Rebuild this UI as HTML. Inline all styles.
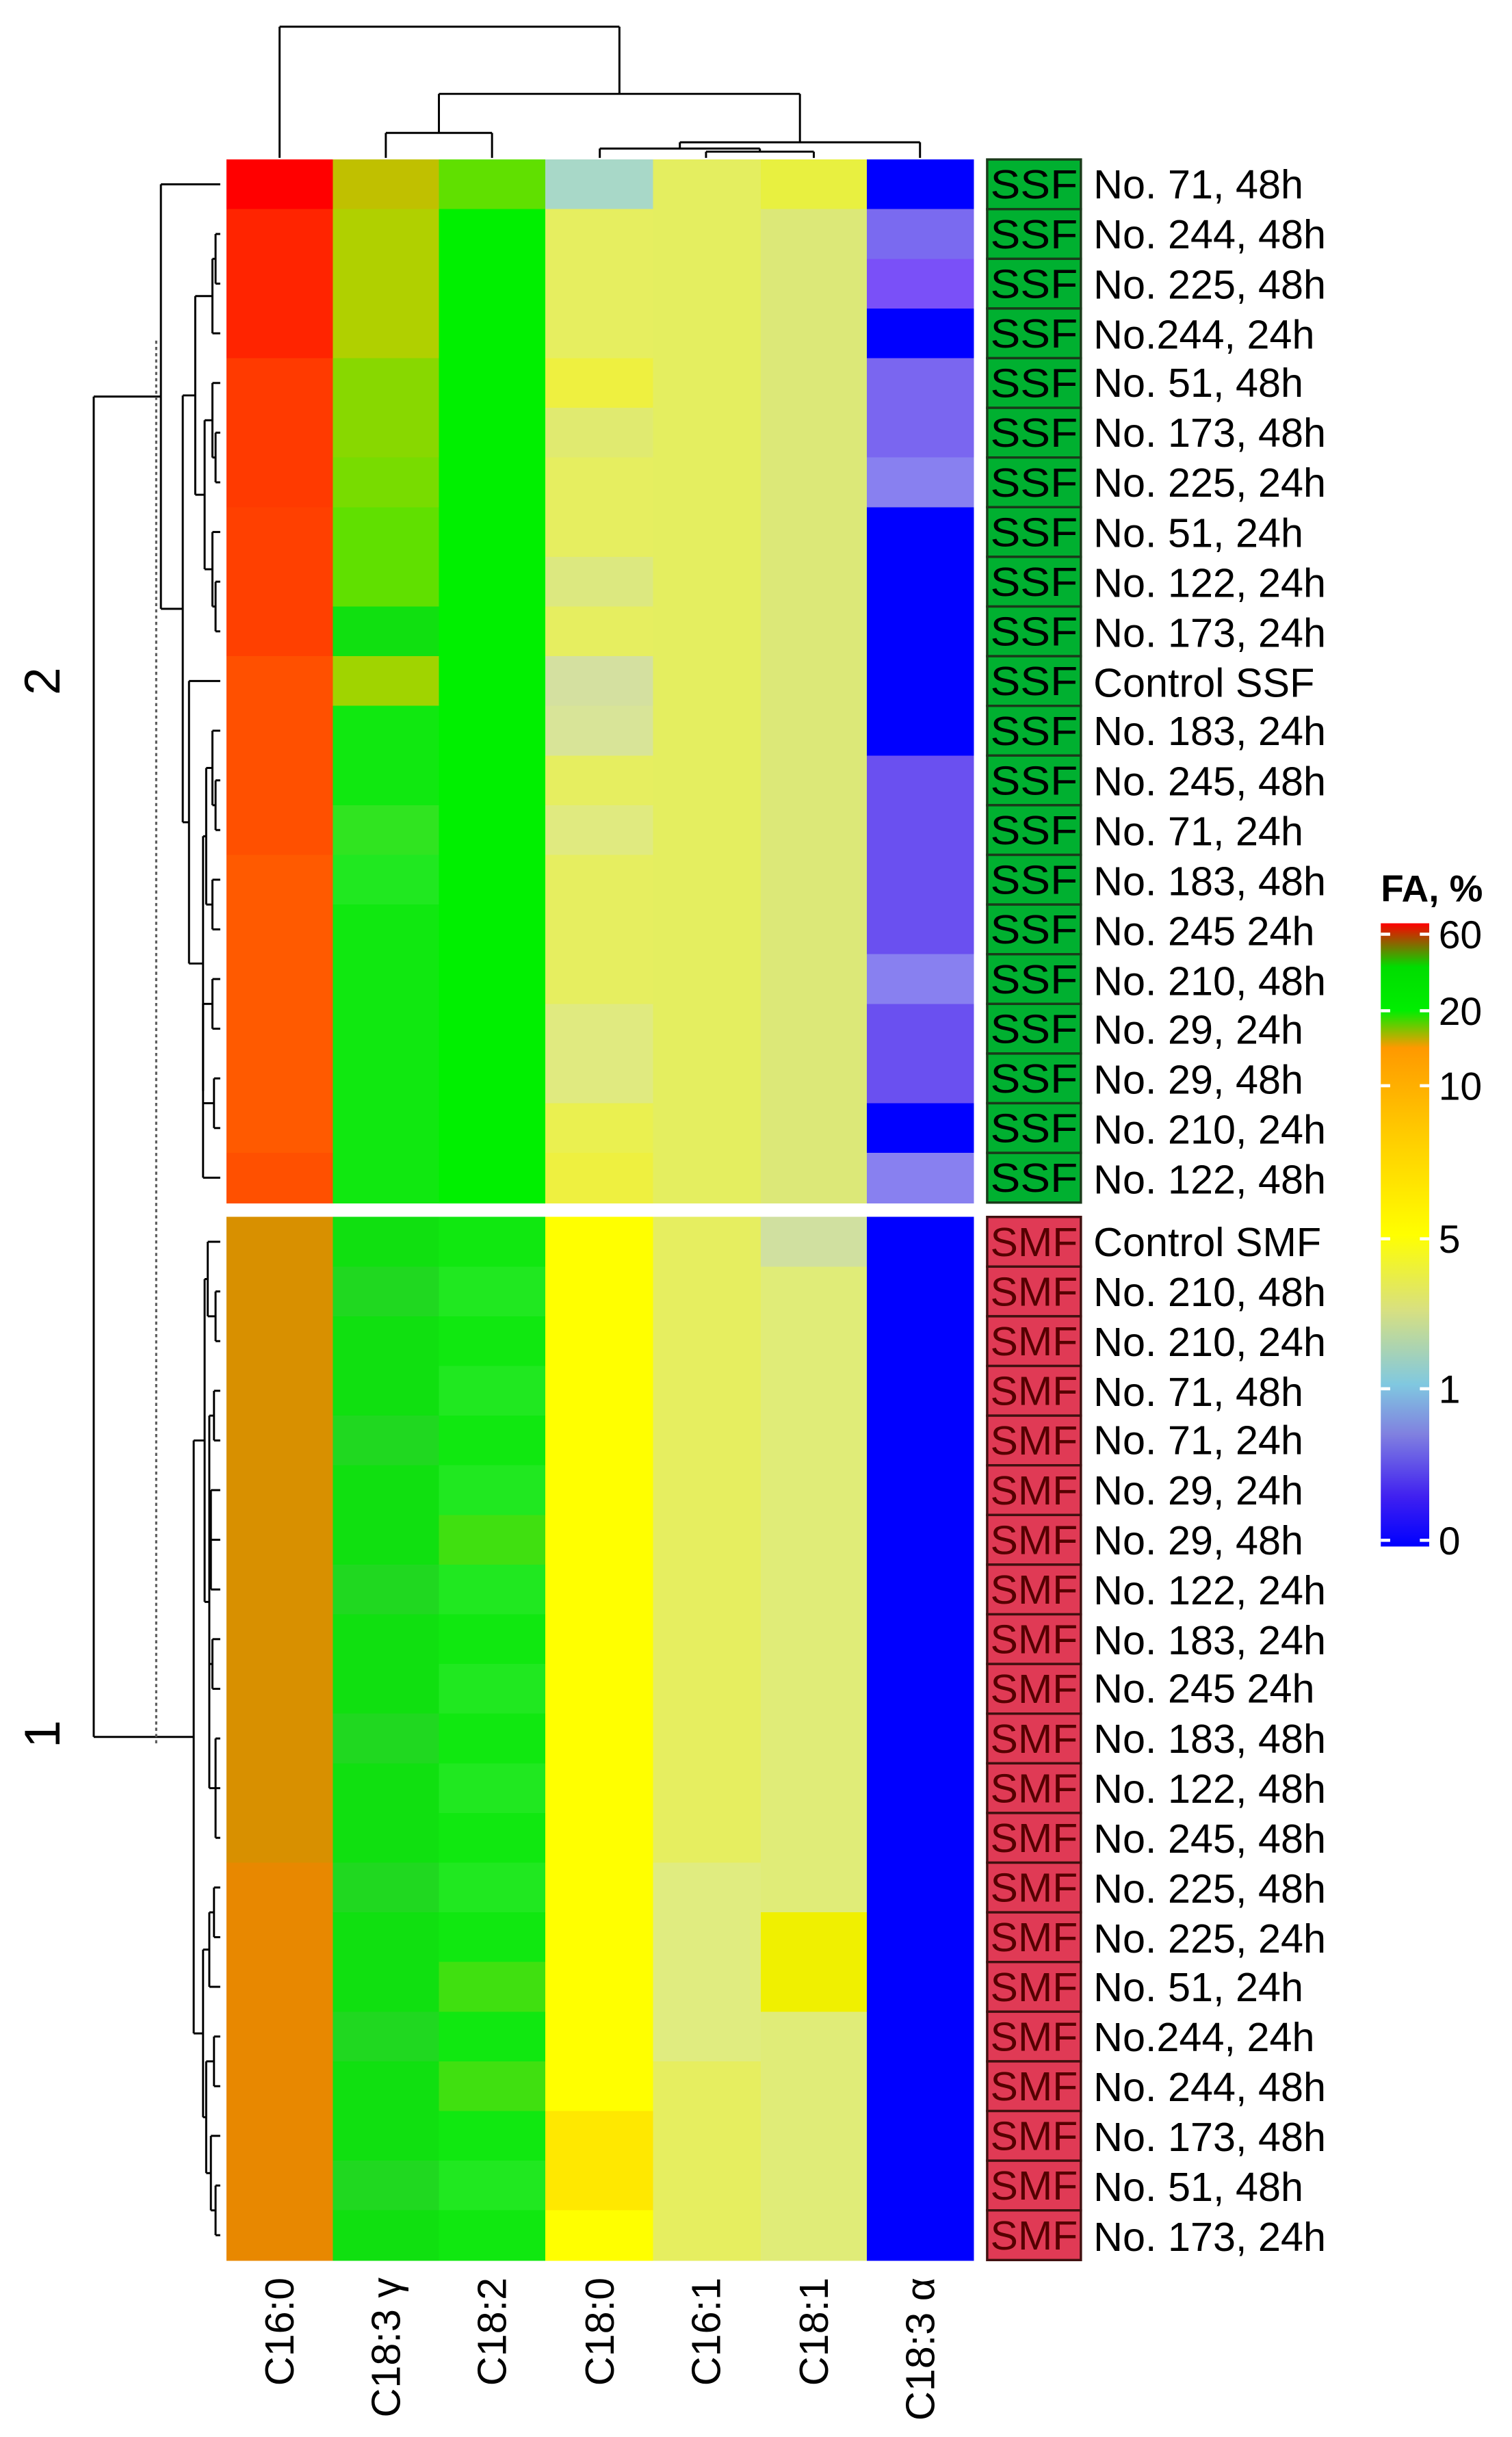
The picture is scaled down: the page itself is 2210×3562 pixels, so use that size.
<!DOCTYPE html>
<html><head><meta charset="utf-8"><style>
html,body{margin:0;padding:0;background:#fff;}
svg{display:block;}
text{font-family:"Liberation Sans",sans-serif;}
</style></head><body>
<svg id="s" width="2210" height="3562" viewBox="0 0 968 1560" xmlns="http://www.w3.org/2000/svg">
<defs>
<linearGradient id="cb" x1="0" y1="0" x2="0" y2="1">
<stop offset="0" stop-color="#ff0000"/>
<stop offset="0.07" stop-color="#00dd00"/>
<stop offset="0.14" stop-color="#00ee00"/>
<stop offset="0.2" stop-color="#ff9900"/>
<stop offset="0.34" stop-color="#ffcc00"/>
<stop offset="0.5" stop-color="#ffff00"/>
<stop offset="0.62" stop-color="#d8e080"/>
<stop offset="0.74" stop-color="#80c8e0"/>
<stop offset="0.82" stop-color="#8080e0"/>
<stop offset="0.92" stop-color="#4020f0"/>
<stop offset="1" stop-color="#0000ff"/>
</linearGradient>
</defs>
<g id="cells" shape-rendering="crispEdges"></g>
<g id="dend" stroke="#000" stroke-width="1.3" fill="none"></g>
<line x1="100" y1="218" x2="100" y2="1117" stroke="#555" stroke-width="1.3" stroke-dasharray="2,2"/>
<g font-size="26" fill="#000">
<text x="700" y="127">No. 71, 48h</text>
<text x="700" y="159">No. 244, 48h</text>
<text x="700" y="191">No. 225, 48h</text>
<text x="700" y="223">No.244, 24h</text>
<text x="700" y="254">No. 51, 48h</text>
<text x="700" y="286">No. 173, 48h</text>
<text x="700" y="318">No. 225, 24h</text>
<text x="700" y="350">No. 51, 24h</text>
<text x="700" y="382">No. 122, 24h</text>
<text x="700" y="414">No. 173, 24h</text>
<text x="700" y="446">Control SSF</text>
<text x="700" y="477">No. 183, 24h</text>
<text x="700" y="509">No. 245, 48h</text>
<text x="700" y="541">No. 71, 24h</text>
<text x="700" y="573">No. 183, 48h</text>
<text x="700" y="605">No. 245 24h</text>
<text x="700" y="637">No. 210, 48h</text>
<text x="700" y="668">No. 29, 24h</text>
<text x="700" y="700">No. 29, 48h</text>
<text x="700" y="732">No. 210, 24h</text>
<text x="700" y="764">No. 122, 48h</text>
<text x="700" y="804">Control SMF</text>
<text x="700" y="836">No. 210, 48h</text>
<text x="700" y="868">No. 210, 24h</text>
<text x="700" y="900">No. 71, 48h</text>
<text x="700" y="931">No. 71, 24h</text>
<text x="700" y="963">No. 29, 24h</text>
<text x="700" y="995">No. 29, 48h</text>
<text x="700" y="1027">No. 122, 24h</text>
<text x="700" y="1059">No. 183, 24h</text>
<text x="700" y="1090">No. 245 24h</text>
<text x="700" y="1122">No. 183, 48h</text>
<text x="700" y="1154">No. 122, 48h</text>
<text x="700" y="1186">No. 245, 48h</text>
<text x="700" y="1218">No. 225, 48h</text>
<text x="700" y="1250">No. 225, 24h</text>
<text x="700" y="1281">No. 51, 24h</text>
<text x="700" y="1313">No.244, 24h</text>
<text x="700" y="1345">No. 244, 48h</text>
<text x="700" y="1377">No. 173, 48h</text>
<text x="700" y="1409">No. 51, 48h</text>
<text x="700" y="1441">No. 173, 24h</text>
</g>
<g id="annot" font-size="26"></g>
<g font-size="26" fill="#000">
<text transform="translate(188,1458) rotate(-90)" text-anchor="end">C16:0</text>
<text transform="translate(256,1458) rotate(-90)" text-anchor="end">C18:3 γ</text>
<text transform="translate(324,1458) rotate(-90)" text-anchor="end">C18:2</text>
<text transform="translate(393,1458) rotate(-90)" text-anchor="end">C18:0</text>
<text transform="translate(461,1458) rotate(-90)" text-anchor="end">C16:1</text>
<text transform="translate(530,1458) rotate(-90)" text-anchor="end">C18:1</text>
<text transform="translate(598,1458) rotate(-90)" text-anchor="end">C18:3 α</text>
</g>
<text transform="translate(38,436) rotate(-90)" text-anchor="middle" font-size="32">2</text>
<text transform="translate(38,1110) rotate(-90)" text-anchor="middle" font-size="32">1</text>
<text x="884" y="577" font-size="24" font-weight="bold">FA, %</text>
<rect x="884" y="591" width="31" height="399" fill="url(#cb)"/>
<g stroke="#fff" stroke-width="2">
<line x1="884" y1="598" x2="890" y2="598"/><line x1="909" y1="598" x2="915" y2="598"/>
<line x1="884" y1="647" x2="890" y2="647"/><line x1="909" y1="647" x2="915" y2="647"/>
<line x1="884" y1="695" x2="890" y2="695"/><line x1="909" y1="695" x2="915" y2="695"/>
<line x1="884" y1="793" x2="890" y2="793"/><line x1="909" y1="793" x2="915" y2="793"/>
<line x1="884" y1="889" x2="890" y2="889"/><line x1="909" y1="889" x2="915" y2="889"/>
<line x1="884" y1="986" x2="890" y2="986"/><line x1="909" y1="986" x2="915" y2="986"/>
</g>
<g font-size="25" fill="#000">
<text x="921" y="607">60</text>
<text x="921" y="656">20</text>
<text x="921" y="704">10</text>
<text x="921" y="802">5</text>
<text x="921" y="898">1</text>
<text x="921" y="995">0</text>
</g>
</svg>
<script>
(function(){
var NS="http://www.w3.org/2000/svg";
function el(p,t,a){var e=document.createElementNS(NS,t);for(var k in a)e.setAttribute(k,a[k]);p.appendChild(e);return e;}
var cells=document.getElementById('cells');
var cx=[145,213,281,349,418,487,555,623];
var rh=31.8;
var top1=102, top2=779;
var A={r:'#ff0000',r2:'#ff2400',r3:'#ff3a00',r4:'#ff4400',r5:'#ff5200',r6:'#ff5a00'};
var c0=['#ff0000','#ff2400','#ff2400','#ff2400','#ff3a00','#ff3a00','#ff3a00','#ff4000','#ff4000','#ff4000','#ff5000','#ff5000','#ff5000','#ff5000','#ff5a00','#ff5a00','#ff5a00','#ff5a00','#ff5a00','#ff5a00','#ff5000'];
var c1=['#c0c000','#b0d000','#b0d000','#b0d000','#88d800','#88d800','#78dc00','#60e000','#60e000','#10e010','#a0d400','#10e810','#10e810','#30e420','#20e820','#10e810','#10e810','#10e810','#10e810','#10e810','#10e810'];
var c2=['#60e000'];for(var i=1;i<21;i++)c2.push('#00f000');
var c3=['#a8d8c8','#e6ee60','#e6ee60','#e6ee60','#eef040','#e0ea70','#e6ee60','#e6ee60','#dce880','#e6ee60','#d4e0a0','#d8e498','#e6ee60','#e0ea80','#e6ee60','#e6ee60','#e6ee60','#e0ea80','#e0ea80','#eaf050','#eef040'];
var c4=[];for(i=0;i<21;i++)c4.push('#e4ee60');
var c5=['#e8f040'];for(i=1;i<21;i++)c5.push('#dce878');
var c6=['#0000ff','#7a6af0','#7a50f8','#0000ff','#7a66f0','#7a66f0','#8880f0','#0000ff','#0000ff','#0000ff','#0000ff','#0000ff','#6a50f0','#6a50f0','#6a50f0','#6a50f0','#8880f0','#6a50f0','#6a50f0','#0000ff','#8880f0'];
var top=[c0,c1,c2,c3,c4,c5,c6];
var d0=[],d1=[],d2=[],d3=[],d4=[],d5=[],d6=[];
for(i=0;i<21;i++){
 d0.push(i<13?'#d89000':'#e88800');
 d1.push(i%3==1?'#20d820':'#10e010');
 d2.push(i==6||i==15||i==17?'#40e010':(i%2?'#20e820':'#10e810'));
 d3.push(i==18||i==19?'#ffe800':'#ffff00');
 d4.push(i>=13&&i<=16?'#e0ec80':'#e6ee60');
 d5.push(i==0?'#d0e0a0':(i==14||i==15?'#f0f000':'#e0ec78'));
 d6.push('#0000ff');
}
var bot=[d0,d1,d2,d3,d4,d5,d6];
for(var c=0;c<7;c++){for(i=0;i<21;i++){
 el(cells,'rect',{x:cx[c],y:top1+i*rh,width:cx[c+1]-cx[c]+0.5,height:rh+0.5,fill:top[c][i]});
 el(cells,'rect',{x:cx[c],y:top2+i*rh,width:cx[c+1]-cx[c]+0.5,height:rh+0.5,fill:bot[c][i]});
}}
// annotation boxes
var an=document.getElementById('annot');
for(i=0;i<21;i++){
 el(an,'rect',{x:632,y:top1+i*rh,width:60,height:rh,fill:'#00b030',stroke:'#1a3a1a','stroke-width':1.5});
 var t=el(an,'text',{x:634,y:top1+i*rh+25,textLength:56,lengthAdjust:'spacingAndGlyphs',fill:'#000'});t.textContent='SSF';
 el(an,'rect',{x:632,y:top2+i*rh,width:60,height:rh,fill:'#e03a55',stroke:'#401010','stroke-width':1.5});
 t=el(an,'text',{x:634,y:top2+i*rh+25,textLength:56,lengthAdjust:'spacingAndGlyphs',fill:'#500'});t.textContent='SMF';
}
// dendrograms
var dg=document.getElementById('dend');
function ln(a,b,c,d){el(dg,'line',{x1:a,y1:b,x2:c,y2:d});}
function N(x,c){return {x:x,c:c};}
function drawL(n,off){ // left dendro
 if(typeof n=='number')return {y:off+(n+0.5)*rh,x:141};
 var ys=[];for(var k=0;k<n.c.length;k++){var r=drawL(n.c[k],off);ln(r.x,r.y,n.x,r.y);ys.push(r.y);}
 var mn=Math.min.apply(null,ys),mx=Math.max.apply(null,ys);ln(n.x,mn,n.x,mx);
 return {y:(mn+mx)/2,x:n.x};
}
var T2=N(103,[0,N(117,[N(125,[N(136,[N(138,[1,2]),3]),N(131,[N(136,[4,N(138,[5,6])]),N(136,[7,N(138,[8,9])])])]),N(121,[10,N(130,[N(132,[N(136,[11,N(138,[12,13])]),N(136,[14,15])]),N(130,[N(136,[16,17]),N(137,[18,19]),20])])])])]);
var T1=N(124,[N(131,[N(133,[0,N(138,[1,2])]),N(134,[N(137,[3,4]),N(135,[5,6,7]),N(136,[8,9]),N(138,[10,11,12])])]),N(130,[N(134,[N(137,[13,14]),15]),N(132,[N(137,[16,17]),N(135,[18,N(138,[19,20])])])])]);
var r2=drawL(T2,top1), r1=drawL(T1,top2);
ln(60,r2.y,r2.x,r2.y);ln(60,r1.y,r1.x,r1.y);ln(60,r2.y,60,r1.y);
// top dendro
var cc=[179,247,315,384,452,521,589];
function drawT(n){
 if(typeof n=='number')return {x:cc[n],y:101};
 var xs=[];for(var k=0;k<n.c.length;k++){var r=drawT(n.c[k]);ln(r.x,r.y,r.x,n.y);xs.push(r.x);}
 var mn=Math.min.apply(null,xs),mx=Math.max.apply(null,xs);ln(mn,n.y,mx,n.y);
 return {x:(mn+mx)/2,y:n.y};
}
function M(y,c){return {y:y,c:c};}
drawT(M(17,[0,M(60,[M(85,[1,2]),M(91,[M(95,[3,M(97,[4,5])]),6])])]));
})();
</script>
</body></html>
